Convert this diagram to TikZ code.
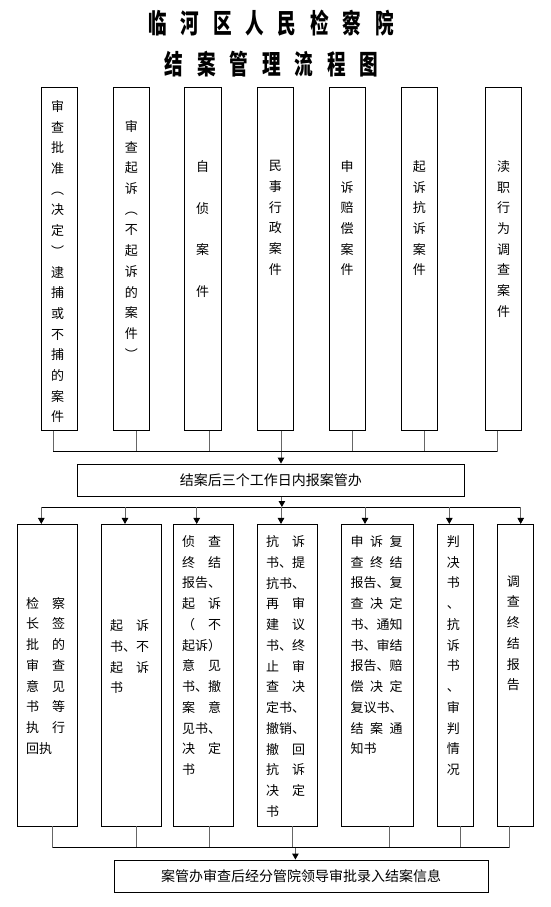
\documentclass[tikz,border=0pt]{standalone}
\usepackage{fontspec}
\usepackage{graphicx}
\newfontfamily\cjk{Noto Sans CJK SC}
\usetikzlibrary{arrows.meta,positioning,calc}
\definecolor{linkgray}{gray}{0.40}
\newlength\jw
\newcommand\jtwo[2]{\makebox[\jw]{#1\hfill#2}}
\newcommand\jthree[3]{\makebox[\jw]{#1\hfill#2\hfill#3}}
\newcommand\tsp{\hspace{20pt}}
\tikzset{
  casebox/.style={draw,line width=0.8pt,inner sep=0pt,minimum width=36pt,minimum height=343pt},
  docbox/.style={draw,line width=0.8pt,inner sep=0pt,minimum height=301.7pt},
  stepbox/.style={draw,line width=0.8pt,inner sep=0pt,minimum height=32.5pt,font=\cjk\fontsize{14}{16}\selectfont},
  vtxt/.style={inner sep=0pt,align=center,font=\cjk\fontsize{13}{#1}\selectfont},
  vtxt/.default=20.7,
  jtxt/.style={inner sep=0pt,align=left,text width=#1,font=\cjk\fontsize{13}{20.75}\selectfont\setlength\jw{#1}},
  jtxt/.default=39pt,
  stem/.style={linkgray,line width=0.9pt},
  bus/.style={black,line width=0.9pt},
  arr/.style={linkgray,line width=0.9pt,-{Triangle[length=6pt,width=6.5pt,color=black]}},
  titletxt/.style={font=\cjk\fontsize{27}{30}\selectfont\bfseries,inner sep=0pt},
}
\begin{document}
\begin{tikzpicture}[x=1pt,y=-1pt]
  \useasboundingbox (0,0) rectangle (551,907);
  % title
  \node[titletxt] (title1) at (271,23) {\scalebox{0.69}[1]{临\tsp 河\tsp 区\tsp 人\tsp 民\tsp 检\tsp 察\tsp 院}};
  \node[titletxt] (title2) at (271.5,64.5) {\scalebox{0.69}[1]{结\tsp 案\tsp 管\tsp 理\tsp 流\tsp 程\tsp 图}};
  % case types
  \node[casebox] (t1) at (59.5,258.7) {};
  \node[casebox] (t2) at (131.3,258.7) {};
  \node[casebox,minimum width=36.7pt] (t3) at (202.7,258.7) {};
  \node[casebox] (t4) at (275.3,258.7) {};
  \node[casebox] (t5) at (347,258.7) {};
  \node[casebox] (t6) at (419.3,258.7) {};
  \node[casebox] (t7) at (503.5,258.7) {};
  \node[vtxt,below=13.4pt of t1.north,xshift=-2pt] (t1txt) {审\\查\\批\\准\\︵\\决\\定\\︶\\逮\\捕\\或\\不\\捕\\的\\案\\件};
  \node[vtxt,below=33.4pt of t2.north] (t2txt) {审\\查\\起\\诉\\︵\\不\\起\\诉\\的\\案\\件\\︶};
  \node[vtxt=41.7,below=73.4pt of t3.north] (t3txt) {自\\侦\\案\\件};
  \node[vtxt,below=73.4pt of t4.north] (t4txt) {民\\事\\行\\政\\案\\件};
  \node[vtxt,below=73.4pt of t5.north] (t5txt) {申\\诉\\赔\\偿\\案\\件};
  \node[vtxt,below=73.4pt of t6.north] (t6txt) {起\\诉\\抗\\诉\\案\\件};
  \node[vtxt,below=73.4pt of t7.north] (t7txt) {渎\\职\\行\\为\\调\\查\\案\\件};
  % report step
  \node[stepbox,minimum width=386.3pt] (mid) at (270.9,480.2) {结案后三个工作日内报案管办};
  % closing documents
  \node[docbox,minimum width=60.4pt] (b1) at (47.5,675.2) {};
  \node[docbox,minimum width=60.4pt] (b2) at (131.5,675.2) {};
  \node[docbox,minimum width=60pt] (b3) at (203.3,675.2) {};
  \node[docbox,minimum width=60.4pt] (b4) at (287.5,675.2) {};
  \node[docbox,minimum width=71.6pt] (b5) at (377.5,675.2) {};
  \node[docbox,minimum width=36pt] (b6) at (455.3,675.2) {};
  \node[docbox,minimum width=36pt] (b7) at (515.3,675.2) {};
  \node[jtxt,anchor=north west] (b1txt) at ([xshift=9pt,yshift=-73pt]b1.north west)
    {\jtwo{检}{察}\\\jtwo{长}{签}\\\jtwo{批}{的}\\\jtwo{审}{查}\\\jtwo{意}{见}\\\jtwo{书}{等}\\\jtwo{执}{行}\\回执};
  \node[jtxt,anchor=north west] (b2txt) at ([xshift=9pt,yshift=-95.5pt]b2.north west)
    {\jtwo{起}{诉}\\书、不\\\jtwo{起}{诉}\\书};
  \node[jtxt,anchor=north west] (b3txt) at ([xshift=9pt,yshift=-11.4pt]b3.north west)
    {\jtwo{侦}{查}\\\jtwo{终}{结}\\报告、\\\jtwo{起}{诉}\\\jtwo{（}{不}\\起诉）\\\jtwo{意}{见}\\书、撤\\\jtwo{案}{意}\\见书、\\\jtwo{决}{定}\\书};
  \node[jtxt,anchor=north west] (b4txt) at ([xshift=9pt,yshift=-11.4pt]b4.north west)
    {\jtwo{抗}{诉}\\书、提\\抗书、\\\jtwo{再}{审}\\\jtwo{建}{议}\\书、终\\\jtwo{止}{审}\\\jtwo{查}{决}\\定书、\\撤销、\\\jtwo{撤}{回}\\\jtwo{抗}{诉}\\\jtwo{决}{定}\\书};
  \node[jtxt=52pt,anchor=north west] (b5txt) at ([xshift=9pt,yshift=-11.4pt]b5.north west)
    {\jthree{申}{诉}{复}\\\jthree{查}{终}{结}\\报告、复\\\jthree{查}{决}{定}\\书、通知\\书、审结\\报告、赔\\\jthree{偿}{决}{定}\\复议书、\\\jthree{结}{案}{通}\\知书};
  \node[vtxt=20.75,below=11.4pt of b6.north,xshift=-2pt] (b6txt) {判\\决\\书\\、\\抗\\诉\\书\\、\\审\\判\\情\\况};
  \node[vtxt=20.75,below=51.4pt of b7.north,xshift=-2pt] (b7txt) {调\\查\\终\\结\\报\\告};
  % final step
  \node[stepbox,minimum width=374pt] (fin) at (301,876.2) {案管办审查后经分管院领导审批录入结案信息};
  % connectors
  \coordinate (busA) at (0,451.5);
  \coordinate (busB) at (0,507);
  \coordinate (busC) at (0,847.6);
  \foreach \b/\dx in {t1/-6.2,t2/5.4,t3/6.3,t4/5.7,t5/5.7,t6/5.4,t7/-6.5}
    \draw[stem] ([xshift=\dx pt]\b.south) -- ([xshift=\dx pt]\b.south |- busA);
  \draw[bus] ([xshift=-6.2pt]t1.south |- busA) -- ([xshift=-6.5pt]t7.south |- busA);
  \draw[arr] ([xshift=5.7pt]t4.south |- busA) -- ([xshift=5.7pt]t4.south |- mid.north);
  \draw[arr] ([xshift=11pt]mid.south) -- ([xshift=11pt]mid.south |- busB);
  \draw[bus] ([xshift=-6.2pt]b1.north |- busB) -- ([xshift=5.4pt]b7.north |- busB);
  \foreach \b/\dx in {b1/-6.2,b2/-6.5,b3/-6.6,b4/-6.5,b5/-12.5,b6/-6,b7/5.4}
    \draw[arr] ([xshift=\dx pt]\b.north |- busB) -- ([xshift=\dx pt]\b.north);
  \foreach \b/\dx in {b1/5.2,b2/5.2,b3/5.7,b4/5.2,b5/11.5,b6/5.4,b7/-6}
    \draw[stem] ([xshift=\dx pt]\b.south) -- ([xshift=\dx pt]\b.south |- busC);
  \draw[bus] ([xshift=5.2pt]b1.south |- busC) -- ([xshift=-6pt]b7.south |- busC);
  \draw[arr] ([xshift=-5.6pt]fin.north |- busC) -- ([xshift=-5.6pt]fin.north);
\end{tikzpicture}
\end{document}
